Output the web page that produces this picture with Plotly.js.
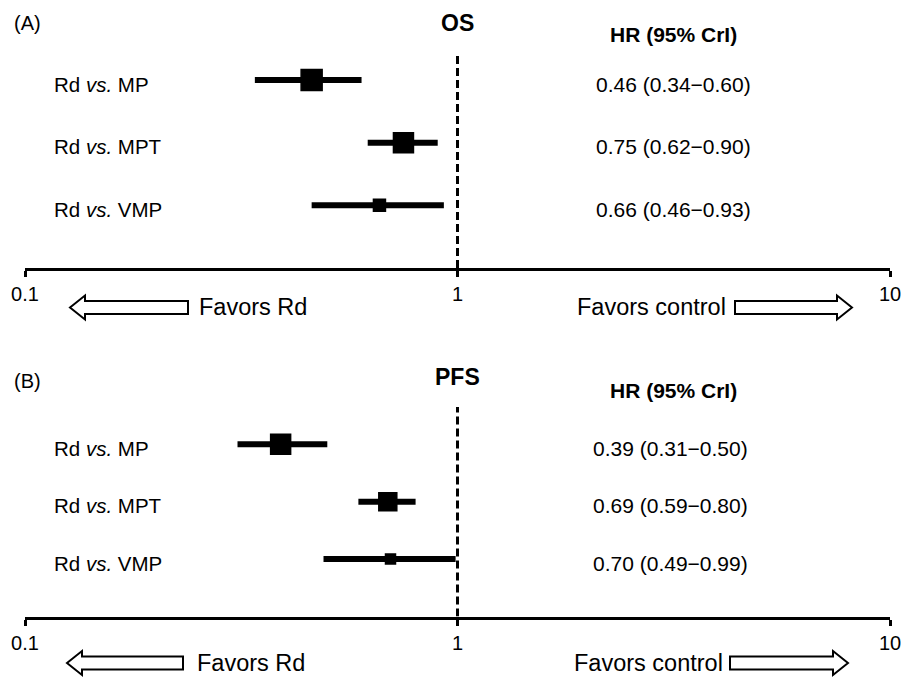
<!DOCTYPE html>
<html><head><meta charset="utf-8">
<script src="https://cdn.plot.ly/plotly-3.0.1.min.js"></script>
<style>html,body{margin:0;padding:0;background:#fff;} #chart{width:905px;height:680px;}</style>
</head><body><div id="chart"></div>
<script>
// ---- data ----
const comparisons = ['Rd <i>vs.</i> MP', 'Rd <i>vs.</i> MPT', 'Rd <i>vs.</i> VMP'];
const osHR   = [0.46, 0.75, 0.66];
const osLow  = [0.34, 0.62, 0.46];
const osHigh = [0.60, 0.90, 0.93];
const pfsHR   = [0.39, 0.69, 0.70];
const pfsLow  = [0.31, 0.59, 0.49];
const pfsHigh = [0.50, 0.80, 0.99];
const tickVals = [0.1, 1, 10];
const tickText = ['0.1', '1', '10'];
const refHR = 1;
const panelLabels = ['(A)', '(B)'];
const panelTitles = ['OS', 'PFS'];
const colHeader = 'HR (95% CrI)';
const favorsLeft = 'Favors Rd';
const favorsRight = 'Favors control';

// ---- styles / layout geometry ----
const W = 905, H = 680, ML = 25, MR = 15;
const PW = W - ML - MR;
const px = x => (x - ML) / PW;
const py = y => 1 - y / H;
const FONT = 'Liberation Sans, Arial, Helvetica, sans-serif';
const osBox = [21, 20, 12];
const pfsBox = [20, 18, 10];

const panels = [
  {hr: osHR, lo: osLow, hi: osHigh, box: osBox, xa: 'x', ya: 'y', axisPx: 268, topPx: 55, yTop: 3.4,
   labelY: 23, titleY: 23.5, headY: 34, arrowY: 307.5, lTip: 70, lTail: 188, rTail: 735, rTip: 852, fL: 197, fR: 575, valX: 673},
  {hr: pfsHR, lo: pfsLow, hi: pfsHigh, box: pfsBox, xa: 'x2', ya: 'y2', axisPx: 616.5, topPx: 407, yTop: 3.65,
   labelY: 381, titleY: 377, headY: 391, arrowY: 663, lTip: 67, lTail: 183, rTail: 730, rTip: 848, fL: 195, fR: 572, valX: 670}
];

const traces = [];
const annotations = [];
const shapes = [];
const layout = {
  width: W, height: H, margin: {l: ML, r: MR, t: 0, b: 0},
  paper_bgcolor: '#fff', plot_bgcolor: '#fff', showlegend: false,
  font: {family: FONT, color: '#000'}
};

function arrowPath(tip, tail, cy, dir) {
  const head = 15 * dir, hh = 12, sh = 6.5;
  const b = tip + head;
  const pts = [[tip, cy], [b, cy - hh], [b, cy - sh], [tail, cy - sh], [tail, cy + sh], [b, cy + sh], [b, cy + hh]];
  return 'M' + pts.map(p => px(p[0]).toFixed(5) + ',' + py(p[1]).toFixed(5)).join(' L') + ' Z';
}

panels.forEach((p, k) => {
  const n = comparisons.length;
  const rows = comparisons.map((c, i) => n - i);
  traces.push({
    type: 'scatter', mode: 'lines', xaxis: p.xa, yaxis: p.ya,
    x: [refHR, refHR], y: [0, p.yTop],
    line: {color: '#000', width: 3, dash: '8px,4px'}, hoverinfo: 'skip'
  });
  traces.push({
    type: 'scatter', mode: 'markers', xaxis: p.xa, yaxis: p.ya,
    x: p.hr, y: rows,
    marker: {symbol: 'square', size: p.box, color: '#000', opacity: 1, line: {color: '#000', width: 1.5}},
    error_x: {type: 'data', symmetric: false,
      array: p.hr.map((v, i) => p.hi[i] - v),
      arrayminus: p.hr.map((v, i) => v - p.lo[i]),
      color: '#000', thickness: 6, width: 0}
  });
  const dom = [py(p.axisPx), py(p.topPx)];
  const xk = k === 0 ? 'xaxis' : 'xaxis2';
  const yk = k === 0 ? 'yaxis' : 'yaxis2';
  layout[xk] = {
    type: 'log', range: [-1, 1], domain: [0, 1], anchor: p.ya,
    showline: true, linecolor: '#000', linewidth: 3,
    ticks: 'outside', ticklen: 6, tickwidth: 3, tickcolor: '#000',
    tickvals: tickVals, ticktext: tickText, ticklabelstandoff: 0,
    tickfont: {size: 20, color: '#000', family: FONT},
    showgrid: false, zeroline: false, fixedrange: true
  };
  layout[yk] = {domain: dom, range: [0, p.yTop], visible: false, anchor: p.xa, fixedrange: true, showgrid: false, zeroline: false};

  comparisons.forEach((c, i) => {
    annotations.push({xref: 'paper', yref: p.ya, x: px(52), y: rows[i], yshift: -4, text: c,
      showarrow: false, xanchor: 'left', yanchor: 'middle', font: {size: 20.5, color: '#000'}});
    annotations.push({xref: 'paper', yref: p.ya, x: px(p.valX), y: rows[i], yshift: -4,
      text: p.hr[i].toFixed(2) + ' (' + p.lo[i].toFixed(2) + '\u2212' + p.hi[i].toFixed(2) + ')',
      showarrow: false, xanchor: 'center', yanchor: 'middle', font: {size: 21, color: '#000'}});
  });
  annotations.push({xref: 'paper', yref: 'paper', x: px(12), y: py(p.labelY), text: panelLabels[k],
    showarrow: false, xanchor: 'left', yanchor: 'middle', font: {size: 20, color: '#000'}});
  annotations.push({xref: 'paper', yref: 'paper', x: px(457), y: py(p.titleY), text: '<b>' + panelTitles[k] + '</b>',
    showarrow: false, xanchor: 'center', yanchor: 'middle', font: {size: 23, color: '#000'}});
  annotations.push({xref: 'paper', yref: 'paper', x: px(673), y: py(p.headY), text: '<b>' + colHeader + '</b>',
    showarrow: false, xanchor: 'center', yanchor: 'middle', font: {size: 21, color: '#000'}});
  annotations.push({xref: 'paper', yref: 'paper', x: px(p.fL), y: py(p.arrowY), text: favorsLeft,
    showarrow: false, xanchor: 'left', yanchor: 'middle', font: {size: 23.5, color: '#000'}});
  annotations.push({xref: 'paper', yref: 'paper', x: px(p.fR), y: py(p.arrowY), text: favorsRight,
    showarrow: false, xanchor: 'left', yanchor: 'middle', font: {size: 23.5, color: '#000'}});
  shapes.push({type: 'path', xref: 'paper', yref: 'paper', path: arrowPath(p.lTip, p.lTail, p.arrowY, 1),
    line: {color: '#000', width: 2}, fillcolor: '#fff'});
  shapes.push({type: 'path', xref: 'paper', yref: 'paper', path: arrowPath(p.rTip, p.rTail, p.arrowY, -1),
    line: {color: '#000', width: 2}, fillcolor: '#fff'});
});

layout.annotations = annotations;
layout.shapes = shapes;
Plotly.newPlot('chart', traces, layout, {displayModeBar: false, staticPlot: true});
</script>
</body></html>
